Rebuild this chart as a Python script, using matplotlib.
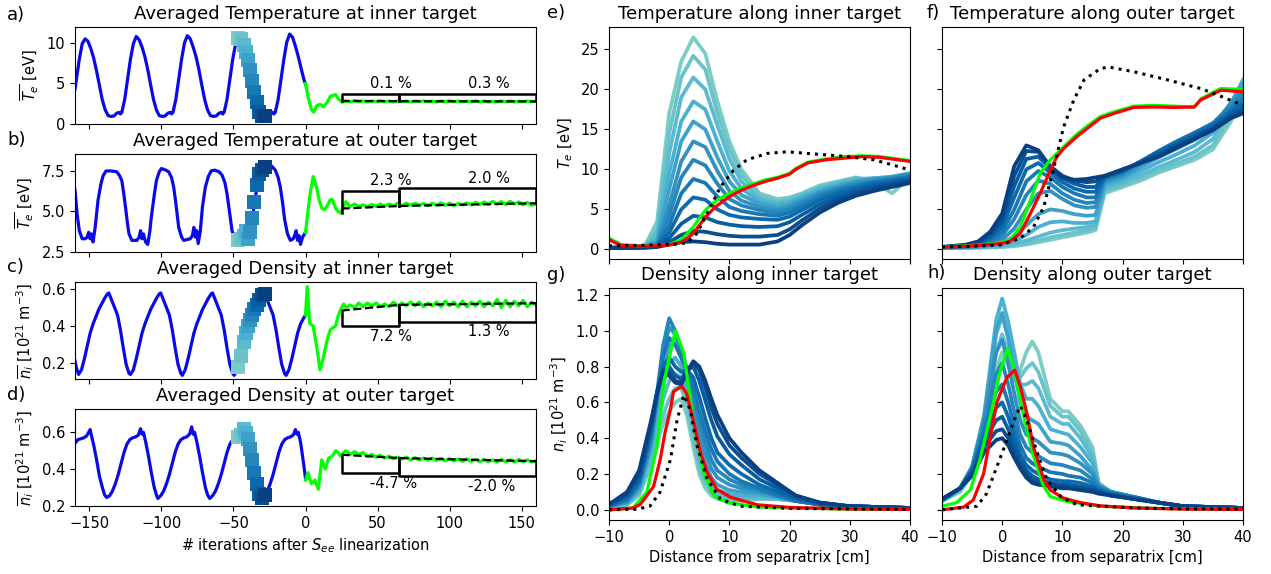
import matplotlib
matplotlib.use('Agg')
import matplotlib.pyplot as plt
import numpy as np

# ---------------- left column: target averages vs. iteration ----------------
ITER_SQUARES = [-47, -45, -43, -41.5, -40, -38.5, -37, -35.5, -34, -32, -30, -28]

A_BLUE_X = [-160, -159, -157, -155, -153, -151, -149, -147, -145, -143, -141, -139, -137, -135, -133, -131, -129.5, -128.5, -127.5,
            -125.5, -123.5, -121.5, -119.5, -117.5, -115.5, -113.5, -111.5, -109.5, -107.5, -105.5, -103.5, -101.5, -99.5, -97.5, -95.5, -94, -93, -92,
            -90, -88, -86, -84, -82, -80, -78, -76, -74, -72, -70, -68, -66, -64, -62, -60, -58.5, -57.5, -56.5,
            -54.5, -52.5, -50.5, -48.5, -46.5, -44.5, -42.5, -40.5, -38.5, -36.5, -34.5, -32.5, -30.5, -28.5, -26.5, -24.5, -23, -22, -21,
            -19, -17, -15, -13, -11, -9, -7, -5, -3, -1, 0]
A_BLUE_Y = [4.3, 5.5, 8.0, 9.9, 10.5, 10.2, 9.3, 8.1, 6.5, 4.7, 2.9, 1.7, 1.0, 0.9, 0.95, 1.3, 1.4, 1.2, 1.4,
            3.0, 5.5, 8.0, 9.9, 10.8, 10.4, 9.5, 8.3, 6.7, 4.8, 3.0, 1.7, 1.0, 0.9, 0.95, 1.3, 1.4, 1.2, 1.4,
            3.0, 5.5, 8.0, 10.0, 10.9, 10.5, 9.5, 8.3, 6.7, 4.8, 3.0, 1.7, 1.0, 0.9, 0.95, 1.3, 1.4, 1.2, 1.4,
            3.0, 5.5, 8.0, 9.9, 10.7, 10.4, 9.5, 8.3, 6.7, 4.8, 3.0, 1.7, 1.0, 0.9, 0.95, 1.3, 1.4, 1.2, 1.4,
            3.0, 5.5, 8.0, 10.1, 11.1, 10.7, 9.6, 8.3, 6.8, 5.4, 4.9]
A_SQUARES = [10.6, 10.5, 9.8, 8.9, 7.9, 6.7, 5.3, 3.9, 2.7, 1.5, 1.0, 0.9]

B_BLUE_X = [-160, -158.5, -157, -155, -153, -151.5, -150.5, -149.5, -148.5, -147.5, -146, -144, -142, -140.5, -138.5, -135, -131, -129,
            -127.5, -126, -125, -123.5, -122.5, -120.5, -117, -115.5, -114.5, -113.5, -112.5, -111, -109.5, -108, -107, -105, -103.5,
            -101.5, -100, -97, -95, -93, -91.5, -90, -88, -86, -84.5, -80, -78.5, -77.5, -76.5, -75.5, -74.5, -73, -71.5, -69.5, -67.5,
            -65.5, -63, -60, -58, -56, -54.5, -52.5, -51, -49, -46, -44, -42.5, -41.5, -40.5, -39.5, -38, -36.5, -35, -33, -31, -28.5,
            -25.5, -23.5, -21, -19, -17.5, -16, -14.5, -12.5, -10.5, -8.5, -7.5, -6.5, -5.5, -4.5, -3.5, -2, 0]
B_BLUE_Y = [6.3, 4.8, 3.8, 3.3, 3.3, 3.4, 3.7, 3.3, 3.6, 3.1, 4.0, 5.7, 6.7, 7.2, 7.5, 7.5, 7.45, 7.2,
            6.9, 6.0, 5.3, 4.2, 3.6, 3.2, 3.2, 3.4, 3.8, 3.3, 3.6, 3.1, 2.95, 3.8, 4.65, 6.0, 6.9,
            7.45, 7.65, 7.55, 7.45, 7.1, 6.5, 5.5, 4.0, 3.4, 3.2, 3.3, 3.5, 4.0, 3.4, 3.8, 3.0, 3.8, 5.3, 6.5, 7.15,
            7.5, 7.55, 7.45, 7.25, 6.8, 6.1, 4.8, 3.8, 3.3, 3.2, 3.3, 3.5, 3.8, 3.3, 3.1, 3.7, 4.8, 5.8, 6.8, 7.4, 7.7,
            7.85, 7.8, 7.55, 7.1, 6.5, 5.6, 4.5, 3.6, 3.2, 3.3, 3.5, 3.8, 3.2, 3.5, 2.95, 3.4, 3.7]
B_SQUARES = [3.2, 3.3, 3.45, 3.8, 3.3, 3.7, 4.6, 5.6, 6.6, 7.3, 7.55, 7.75]

C_BLUE_X = [-160, -159, -157.5, -155.5, -153.5, -151.5, -149.5, -147.5, -145.5, -143.5, -141.5, -139.5, -137.5, -136.5, -134.5,
            -132.5, -130.5, -128.5, -126.5, -124.5, -122.5,
            -121.5, -119.5, -117.5, -115.5, -113.5, -111.5, -109.5, -107.5, -105.5, -103.5, -101.5, -100.5, -98.5, -96.5, -94.5,
            -92.5, -90.5, -88.5, -86.5,
            -85.5, -83.5, -81.5, -79.5, -77.5, -75.5, -73.5, -71.5, -69.5, -67.5, -65.5, -64.5, -62.5, -60.5, -58.5, -56.5, -54.5,
            -52.5, -50.5,
            -49.5, -47.5, -45.5, -43.5, -41.5, -39.5, -37.5, -35.5, -33.5, -31.5, -29.5, -28.5, -26.5, -24.5, -22.5, -20.5, -18.5,
            -16.5, -14.5,
            -13.5, -11.5, -9.5, -7.5, -5.5, -3.5, -1.5, 0]
C_BLUE_Y = [0.21, 0.17, 0.135, 0.16, 0.22, 0.29, 0.36, 0.41, 0.45, 0.49, 0.52, 0.55, 0.575, 0.58, 0.54,
            0.50, 0.46, 0.38, 0.28, 0.19, 0.14,
            0.135, 0.16, 0.22, 0.29, 0.36, 0.41, 0.45, 0.49, 0.52, 0.55, 0.575, 0.58, 0.54, 0.50, 0.46,
            0.38, 0.28, 0.19, 0.14,
            0.13, 0.16, 0.22, 0.29, 0.36, 0.41, 0.45, 0.49, 0.52, 0.55, 0.575, 0.58, 0.54, 0.50, 0.46, 0.38, 0.28,
            0.19, 0.14,
            0.13, 0.16, 0.22, 0.29, 0.36, 0.41, 0.45, 0.49, 0.52, 0.55, 0.575, 0.58, 0.54, 0.50, 0.46, 0.38, 0.28,
            0.19, 0.14,
            0.13, 0.16, 0.22, 0.29, 0.36, 0.41, 0.44, 0.46]
C_SQUARES = [0.175, 0.235, 0.31, 0.36, 0.40, 0.43, 0.46, 0.49, 0.515, 0.54, 0.57, 0.575]

D_BLUE_X = [-160, -158, -156, -154, -152, -150.5, -149.5, -148.5, -147, -145, -143, -141, -139.5,
            -138, -136, -134, -132, -130, -128, -126, -124, -122, -120, -118, -116, -114.5, -113.5, -112.5, -111, -109, -107, -105,
            -103.5,
            -102.5, -100.5, -98.5, -96.5, -94.5, -92.5, -90.5, -88.5, -86.5, -84.5, -82.5, -80.5, -79, -78, -77, -75.5, -73.5,
            -71.5, -69.5, -68,
            -66.5, -64.5, -62.5, -60.5, -58.5, -56.5, -54.5, -52.5, -50.5, -48.5, -46.5, -44.5, -43, -42, -41, -39.5, -37.5,
            -35.5, -33.5, -32,
            -30.5, -28.5, -26.5, -24.5, -22.5, -20.5, -18.5, -16.5, -14.5, -12.5, -10.5, -8.5, -7, -6, -5, -3.5, -1.5, 0]
D_BLUE_Y = [0.54, 0.56, 0.565, 0.57, 0.58, 0.60, 0.615, 0.58, 0.53, 0.45, 0.36, 0.30, 0.26,
            0.245, 0.255, 0.28, 0.32, 0.37, 0.43, 0.49, 0.535, 0.56, 0.57, 0.575, 0.585, 0.62, 0.59, 0.60, 0.55, 0.47, 0.38, 0.30,
            0.26,
            0.24, 0.255, 0.28, 0.32, 0.37, 0.43, 0.49, 0.535, 0.56, 0.57, 0.575, 0.59, 0.63, 0.59, 0.60, 0.55, 0.47,
            0.38, 0.30, 0.26,
            0.24, 0.255, 0.28, 0.32, 0.37, 0.43, 0.49, 0.535, 0.56, 0.57, 0.575, 0.59, 0.64, 0.60, 0.60, 0.55, 0.47,
            0.38, 0.30, 0.26,
            0.24, 0.255, 0.28, 0.32, 0.37, 0.43, 0.49, 0.535, 0.56, 0.57, 0.575, 0.585, 0.615, 0.59, 0.60, 0.55, 0.44, 0.35]
D_SQUARES = [0.575, 0.583, 0.62, 0.595, 0.565, 0.51, 0.45, 0.38, 0.32, 0.265, 0.245, 0.26]

GREEN_TAIL_X = [28, 31, 34, 37, 40, 43, 46, 49, 52, 55, 58, 61, 64, 67, 70, 73, 76, 79, 82, 85, 88, 91, 94, 97, 100,
                103, 106, 109, 112, 115, 118, 121, 124, 127, 130, 133, 136, 139, 142, 145, 148, 151, 154, 157, 160]

A_GREEN_HEAD_X = [0, 2.2, 4.1, 5.8, 7.7, 10.1, 12.5, 14.9, 17.3, 20.9, 23.2, 25.6]
A_GREEN_HEAD_Y = [4.96, 3.0, 1.76, 1.43, 2.2, 2.4, 2.1, 2.6, 3.4, 3.6, 3.0, 2.66]
A_GREEN_TAIL_Y = [2.8, 2.7, 2.85, 2.72, 2.82, 2.7, 2.8, 2.74, 2.84, 2.72, 2.8, 2.7, 2.82, 2.73, 2.8, 2.7, 2.8, 2.74, 2.82,
                  2.72, 2.78, 2.7, 2.8, 2.73, 2.82, 2.72, 2.8, 2.7, 2.78, 2.72, 2.82, 2.7, 2.8, 2.68, 2.76, 2.7, 2.8, 2.72,
                  2.8, 2.7, 2.78, 2.72, 2.8, 2.72, 2.76]

B_GREEN_HEAD_X = [0, 2.9, 5.3, 7.7, 9.5, 11.3, 13, 14.9, 17, 18.5, 20.9, 22.5, 24.4, 26]
B_GREEN_HEAD_Y = [3.7, 5.9, 7.15, 6.5, 5.7, 5.2, 5.1, 5.3, 5.7, 5.75, 5.2, 5.0, 4.9, 5.2]
B_GREEN_TAIL_Y = [5.6, 5.3, 5.45, 5.3, 5.4, 5.28, 5.42, 5.3, 5.45, 5.32, 5.45, 5.35, 5.5, 5.35, 5.5, 5.38, 5.5, 5.38, 5.48,
                  5.35, 5.5, 5.38, 5.52, 5.38, 5.5, 5.36, 5.48, 5.4, 5.52, 5.4, 5.56, 5.42, 5.58, 5.42, 5.62, 5.45, 5.6, 5.42,
                  5.62, 5.45, 5.58, 5.4, 5.55, 5.38, 5.45]

C_GREEN_HEAD_X = [0, 1.2, 2.9, 5.3, 7.7, 10.1, 12.5, 14.9, 17.3, 19, 20.9, 22.5, 24.4, 26.5]
C_GREEN_HEAD_Y = [0.46, 0.615, 0.415, 0.40, 0.29, 0.16, 0.23, 0.32, 0.38, 0.39, 0.40, 0.45, 0.49, 0.52]
C_GREEN_TAIL_Y = [0.50, 0.515, 0.50, 0.525, 0.505, 0.525, 0.51, 0.525, 0.505, 0.52, 0.505, 0.53, 0.51, 0.525, 0.51, 0.53,
                  0.51, 0.53, 0.505, 0.525, 0.51, 0.53, 0.505, 0.535, 0.51, 0.53, 0.505, 0.535, 0.505, 0.53, 0.51, 0.535,
                  0.505, 0.53, 0.51, 0.545, 0.50, 0.54, 0.505, 0.535, 0.51, 0.54, 0.505, 0.53, 0.515]

D_GREEN_HEAD_X = [0, 1.7, 4.1, 6.5, 8.9, 11.3, 13.7, 16.1, 18.5, 20.9, 22.6, 24.4, 26.5]
D_GREEN_HEAD_Y = [0.34, 0.38, 0.32, 0.34, 0.29, 0.45, 0.40, 0.46, 0.47, 0.50, 0.49, 0.47, 0.49]
D_GREEN_TAIL_Y = [0.50, 0.48, 0.495, 0.48, 0.49, 0.47, 0.48, 0.465, 0.475, 0.46, 0.47, 0.455, 0.465, 0.455, 0.465, 0.45,
                  0.462, 0.45, 0.46, 0.448, 0.46, 0.447, 0.458, 0.445, 0.456, 0.445, 0.455, 0.442, 0.455, 0.442, 0.452,
                  0.44, 0.452, 0.44, 0.45, 0.438, 0.452, 0.44, 0.45, 0.438, 0.452, 0.44, 0.45, 0.438, 0.445]

# running mean (dashed) and the two averaging windows
WINDOW_X = [25, 65, 160]
A_MEAN = [2.82, 2.78, 2.76]
B_MEAN = [5.17, 5.33, 5.5]
C_MEAN = [0.484, 0.515, 0.524]
D_MEAN = [0.478, 0.46, 0.443]

A_BASE = [2.82, 2.78, 2.76]
B_BASE = [4.92, 5.33, 5.5]
C_BASE = [0.484, 0.515, 0.524]
D_BASE = [0.478, 0.46, 0.443]
A_LEVEL = [3.7, 3.7]
B_LEVEL = [6.25, 6.42]
C_LEVEL = [0.40, 0.4236]
D_LEVEL = [0.378, 0.36]
A_PCT = ['0.1 %', '0.3 %']
B_PCT = ['2.3 %', '2.0 %']
C_PCT = ['7.2 %', '1.3 %']
D_PCT = ['-4.7 %', '-2.0 %']

# ---------------- right column: profiles along the targets ----------------
E_X = [-10, -6, -4, -2, 0, 2, 4, 6, 8, 10, 12, 15, 18, 20, 22, 25, 28, 31, 34, 37, 40]
E_CURVES = [
    [0.2, 0.3, 0.5, 3.5, 17.0, 23.5, 26.5, 24.5, 18.5, 13.5, 10.0, 7.0, 6.3, 6.5, 7.0, 8.0, 8.5, 9.0, 8.5, 7.0, 9.0],
    [0.2, 0.3, 0.4, 2.5, 14.5, 21.5, 24.2, 22.5, 17.0, 12.5, 9.3, 6.7, 6.0, 6.3, 6.9, 7.8, 8.4, 8.9, 8.7, 8.2, 9.2],
    [0.2, 0.3, 0.4, 1.8, 12.0, 19.0, 21.5, 20.0, 15.5, 11.3, 8.5, 6.3, 5.8, 6.1, 6.7, 7.6, 8.3, 8.8, 8.9, 9.0, 9.4],
    [0.2, 0.3, 0.35, 1.2, 9.5, 16.0, 18.5, 17.5, 13.5, 9.8, 7.6, 6.0, 5.5, 5.9, 6.5, 7.4, 8.1, 8.6, 8.9, 9.1, 9.5],
    [0.2, 0.3, 0.35, 0.9, 7.5, 13.5, 16.0, 15.0, 11.5, 8.5, 6.8, 5.7, 5.2, 5.6, 6.3, 7.2, 7.9, 8.5, 8.8, 9.0, 9.5],
    [0.2, 0.3, 0.3, 0.7, 5.5, 11.0, 13.5, 12.8, 9.8, 7.3, 6.1, 5.3, 4.9, 5.3, 6.0, 7.0, 7.7, 8.3, 8.7, 9.0, 9.4],
    [0.2, 0.25, 0.3, 0.6, 4.2, 9.0, 11.2, 10.5, 8.2, 6.3, 5.5, 4.9, 4.6, 5.0, 5.7, 6.8, 7.5, 8.1, 8.5, 8.8, 9.2],
    [0.2, 0.25, 0.3, 0.5, 3.0, 7.0, 8.8, 8.3, 6.6, 5.3, 4.8, 4.4, 4.2, 4.6, 5.3, 6.5, 7.3, 7.9, 8.4, 8.7, 9.1],
    [0.15, 0.25, 0.3, 0.45, 2.1, 5.0, 6.5, 6.2, 5.0, 4.3, 4.0, 3.8, 3.7, 4.1, 4.9, 6.1, 7.0, 7.6, 8.2, 8.5, 8.9],
    [0.15, 0.2, 0.25, 0.4, 1.4, 3.2, 4.2, 4.0, 3.4, 3.1, 2.9, 2.8, 2.9, 3.4, 4.3, 5.6, 6.6, 7.3, 7.9, 8.3, 8.7],
    [0.15, 0.2, 0.25, 0.35, 0.9, 1.8, 2.3, 2.2, 1.9, 1.7, 1.6, 1.6, 1.8, 2.5, 3.6, 5.1, 6.2, 7.0, 7.6, 8.1, 8.5],
    [0.15, 0.2, 0.2, 0.3, 0.6, 0.9, 1.0, 0.9, 0.7, 0.6, 0.6, 0.6, 1.0, 1.8, 3.0, 4.6, 5.8, 6.7, 7.3, 7.8, 8.3],
]
E_RED_X = [-10, -8, -5, -2, 0, 2, 3, 4, 5, 6, 7, 8, 10, 12, 14, 16, 18, 20, 21, 23, 26, 29, 32, 35, 38, 40]
E_RED_Y = [1.2, 0.5, 0.4, 0.45, 0.55, 0.9, 1.4, 2.0, 3.0, 4.0, 4.8, 5.5, 6.6, 7.4, 8.0, 8.5, 8.9, 9.4, 10.0, 10.8,
           11.2, 11.4, 11.6, 11.5, 11.2, 11.0]
E_GREEN_Y = [1.4, 0.6, 0.45, 0.5, 0.6, 1.2, 2.0, 2.8, 3.9, 4.9, 5.6, 6.2, 7.0, 7.7, 8.2, 8.7, 9.0, 9.5, 10.1, 10.9,
             11.3, 11.6, 11.7, 11.6, 11.3, 11.1]
E_DOT_X = [-10, -5, 0, 2, 3, 4.6, 6.3, 8.5, 10.7, 12.9, 16.3, 19.6, 22.9, 26.3, 29.6, 34, 37.4, 40]
E_DOT_Y = [0.45, 0.5, 0.6, 0.7, 0.9, 2.0, 4.5, 7.8, 9.9, 11.2, 12.0, 12.2, 12.0, 11.8, 11.6, 11.2, 10.5, 9.9]

F_X = [-10, -6, -4, -2, 0, 2, 4, 6, 8, 10, 12, 14, 15.5, 17, 20, 23, 26, 29, 32, 35, 38, 40]
F_CURVES = [
    [0.2, 0.2, 0.2, 0.25, 0.3, 0.4, 0.6, 0.9, 1.2, 1.5, 1.8, 2.1, 2.4, 7.0, 7.8, 8.6, 9.6, 10.4, 11.2, 12.5, 16.0, 19.5],
    [0.2, 0.2, 0.25, 0.3, 0.35, 0.5, 0.8, 1.1, 1.5, 1.8, 2.1, 2.4, 2.7, 7.3, 8.0, 8.9, 9.9, 10.7, 11.6, 13.0, 16.8, 20.3],
    [0.2, 0.25, 0.3, 0.35, 0.45, 0.7, 1.1, 1.6, 2.1, 2.4, 2.6, 2.8, 3.1, 7.6, 8.3, 9.3, 10.3, 11.2, 12.2, 13.8, 17.6, 21.0],
    [0.2, 0.25, 0.3, 0.4, 0.6, 1.0, 1.8, 2.8, 3.4, 3.5, 3.3, 3.3, 3.5, 7.9, 8.7, 9.8, 10.9, 11.9, 13.0, 14.6, 18.2, 21.2],
    [0.2, 0.3, 0.35, 0.5, 0.8, 1.6, 3.0, 4.4, 5.0, 4.8, 4.4, 4.2, 4.3, 8.2, 9.0, 10.3, 11.5, 12.6, 13.7, 15.2, 18.4, 20.8],
    [0.25, 0.3, 0.4, 0.7, 1.2, 2.6, 5.0, 7.0, 7.3, 6.3, 5.5, 5.2, 5.3, 8.5, 9.3, 10.7, 12.0, 13.2, 14.3, 15.6, 18.2, 20.2],
    [0.25, 0.35, 0.5, 0.9, 1.7, 3.8, 6.8, 8.6, 8.2, 7.0, 6.2, 5.8, 5.9, 8.7, 9.5, 10.9, 12.3, 13.5, 14.6, 15.8, 17.9, 19.5],
    [0.25, 0.4, 0.6, 1.1, 2.2, 5.0, 8.5, 9.8, 9.0, 7.8, 7.0, 6.5, 6.5, 8.9, 9.7, 11.0, 12.3, 13.5, 14.6, 15.7, 17.5, 18.8],
    [0.3, 0.4, 0.7, 1.4, 2.8, 6.5, 10.0, 10.8, 9.6, 8.4, 7.6, 7.2, 7.2, 9.0, 9.8, 11.0, 12.2, 13.3, 14.4, 15.5, 17.2, 18.2],
    [0.3, 0.5, 0.8, 1.7, 3.4, 7.9, 11.3, 11.6, 10.1, 8.9, 8.2, 7.8, 7.8, 9.1, 9.9, 10.9, 12.0, 13.1, 14.2, 15.3, 16.9, 17.7],
    [0.3, 0.5, 0.9, 1.9, 3.9, 9.2, 12.3, 12.2, 10.4, 9.2, 8.6, 8.4, 8.5, 9.1, 10.0, 10.8, 11.8, 12.9, 14.0, 15.1, 16.6, 17.3],
    [0.3, 0.6, 1.0, 2.2, 4.5, 10.4, 13.0, 12.4, 10.3, 9.0, 8.7, 8.8, 9.0, 9.2, 10.0, 10.8, 11.6, 12.7, 13.8, 14.9, 16.4, 17.0],
]
F_RED_X = [-10, -6, -3, 0, 1.3, 3.0, 4.7, 6.3, 8.0, 9.1, 10.2, 12.4, 14.1, 16.3, 18.6, 21.9, 25.2, 28.6, 31.9, 33, 34.7,
           36.3, 40]
F_RED_Y = [0.3, 0.4, 0.55, 0.75, 1.0, 2.0, 4.5, 7.0, 9.9, 11.6, 12.6, 14.1, 15.1, 16.4, 17.0, 17.75, 17.8, 17.75, 17.8,
           18.7, 19.3, 19.9, 19.7]
F_GREEN_Y = [0.3, 0.45, 0.6, 0.9, 1.2, 2.8, 6.2, 9.5, 11.2, 12.0, 12.8, 14.4, 15.4, 16.6, 17.2, 17.9, 18.0, 17.9, 17.8,
             18.8, 19.5, 20.1, 20.0]
F_DOT_X = [-10, -5, -0.3, 3, 5.2, 6.9, 8.6, 10.2, 11.9, 13.6, 16.3, 17.7, 21.9, 27.4, 33, 35.8, 40]
F_DOT_Y = [0.3, 0.4, 0.55, 1.4, 2.8, 5.3, 10.3, 15.3, 18.7, 21.2, 22.6, 22.8, 22.2, 21.2, 20.1, 19.3, 18.0]

G_X = [-10, -7, -5, -3, -2, -1, 0, 1, 2, 3, 4, 5, 6, 7, 8, 10, 12, 15, 18, 21, 25, 30, 40]
G_CURVES = [
    [0.01, 0.03, 0.08, 0.25, 0.38, 0.48, 0.55, 0.60, 0.62, 0.52, 0.35, 0.20, 0.12, 0.08, 0.06, 0.05, 0.05, 0.06, 0.06, 0.05, 0.03, 0.02, 0.01],
    [0.01, 0.03, 0.09, 0.27, 0.42, 0.53, 0.62, 0.68, 0.68, 0.58, 0.40, 0.24, 0.15, 0.10, 0.07, 0.06, 0.06, 0.06, 0.06, 0.05, 0.03, 0.02, 0.01],
    [0.01, 0.03, 0.10, 0.30, 0.48, 0.62, 0.72, 0.76, 0.74, 0.63, 0.45, 0.28, 0.18, 0.12, 0.09, 0.07, 0.07, 0.07, 0.06, 0.05, 0.03, 0.02, 0.01],
    [0.02, 0.04, 0.11, 0.33, 0.55, 0.70, 0.82, 0.85, 0.80, 0.68, 0.50, 0.33, 0.21, 0.15, 0.11, 0.09, 0.08, 0.08, 0.07, 0.05, 0.03, 0.02, 0.01],
    [0.02, 0.04, 0.12, 0.36, 0.60, 0.80, 0.92, 0.93, 0.85, 0.72, 0.55, 0.38, 0.26, 0.18, 0.14, 0.11, 0.10, 0.09, 0.07, 0.05, 0.03, 0.02, 0.01],
    [0.02, 0.05, 0.13, 0.38, 0.63, 0.88, 1.02, 0.98, 0.88, 0.75, 0.60, 0.44, 0.32, 0.23, 0.18, 0.14, 0.12, 0.10, 0.08, 0.05, 0.03, 0.02, 0.01],
    [0.02, 0.05, 0.14, 0.40, 0.66, 0.92, 1.07, 1.00, 0.90, 0.78, 0.64, 0.50, 0.38, 0.28, 0.22, 0.17, 0.14, 0.11, 0.08, 0.05, 0.03, 0.02, 0.01],
    [0.02, 0.06, 0.15, 0.42, 0.64, 0.86, 0.96, 0.92, 0.85, 0.78, 0.68, 0.55, 0.44, 0.34, 0.27, 0.20, 0.16, 0.12, 0.08, 0.05, 0.03, 0.02, 0.01],
    [0.02, 0.07, 0.16, 0.44, 0.64, 0.80, 0.85, 0.80, 0.77, 0.78, 0.74, 0.63, 0.51, 0.40, 0.32, 0.25, 0.20, 0.14, 0.10, 0.06, 0.03, 0.02, 0.01],
    [0.03, 0.08, 0.18, 0.46, 0.65, 0.78, 0.80, 0.75, 0.73, 0.78, 0.80, 0.72, 0.61, 0.50, 0.41, 0.31, 0.25, 0.17, 0.12, 0.07, 0.04, 0.02, 0.01],
    [0.03, 0.09, 0.20, 0.48, 0.66, 0.78, 0.77, 0.72, 0.71, 0.78, 0.82, 0.78, 0.68, 0.57, 0.48, 0.36, 0.29, 0.20, 0.14, 0.08, 0.04, 0.02, 0.01],
    [0.03, 0.10, 0.22, 0.50, 0.66, 0.77, 0.75, 0.71, 0.70, 0.77, 0.83, 0.80, 0.72, 0.62, 0.53, 0.40, 0.32, 0.22, 0.15, 0.08, 0.04, 0.02, 0.01],
]
G_RED_X = [-10, -6, -4.8, -2.6, -1.5, -0.7, 0.2, 0.7, 2.1, 2.9, 4.0, 5.2, 6.3, 7.9, 10.2, 14.6, 20.2, 30, 40]
G_RED_Y = [0.0, 0.01, 0.03, 0.13, 0.28, 0.43, 0.56, 0.66, 0.69, 0.65, 0.50, 0.32, 0.21, 0.115, 0.07, 0.028, 0.013, 0.005, 0.002]
G_GREEN_X = [-10, -6, -3.7, -2, -0.9, 1.0, 2.4, 4.0, 5.7, 7.4, 9.6, 15, 20, 30, 40]
G_GREEN_Y = [0.0, 0.01, 0.1, 0.36, 0.71, 1.0, 0.88, 0.5, 0.21, 0.08, 0.04, 0.015, 0.01, 0.004, 0.002]
G_DOT_X = [-10, -5.4, -3.2, -1.5, 0.2, 1.3, 2.4, 3.5, 4.6, 6.3, 8.5, 11.8, 20, 30, 40]
G_DOT_Y = [0.0, 0.003, 0.02, 0.1, 0.28, 0.5, 0.64, 0.56, 0.36, 0.17, 0.06, 0.02, 0.008, 0.004, 0.002]

H_X = [-10, -7, -5, -3, -1, 0, 1, 2, 3, 4, 5, 6, 8, 10, 11, 13, 15, 16, 18, 22, 26, 30, 40]
H_CURVES = [
    [0.05, 0.10, 0.20, 0.42, 0.78, 0.88, 0.80, 0.72, 0.78, 0.88, 0.94, 0.88, 0.62, 0.55, 0.55, 0.47, 0.35, 0.15, 0.10, 0.07, 0.04, 0.02, 0.01],
    [0.05, 0.11, 0.22, 0.46, 0.88, 0.98, 0.88, 0.76, 0.74, 0.79, 0.82, 0.77, 0.58, 0.52, 0.52, 0.44, 0.32, 0.15, 0.10, 0.07, 0.04, 0.02, 0.01],
    [0.05, 0.11, 0.23, 0.50, 0.98, 1.08, 0.96, 0.80, 0.70, 0.70, 0.72, 0.68, 0.52, 0.48, 0.48, 0.40, 0.29, 0.14, 0.10, 0.07, 0.04, 0.02, 0.01],
    [0.05, 0.12, 0.24, 0.53, 1.06, 1.18, 1.05, 0.88, 0.70, 0.62, 0.62, 0.58, 0.45, 0.43, 0.42, 0.35, 0.26, 0.14, 0.10, 0.07, 0.04, 0.02, 0.01],
    [0.05, 0.12, 0.24, 0.52, 1.00, 1.10, 0.96, 0.78, 0.60, 0.52, 0.50, 0.48, 0.38, 0.37, 0.36, 0.30, 0.22, 0.14, 0.10, 0.07, 0.04, 0.02, 0.01],
    [0.05, 0.12, 0.24, 0.50, 0.88, 0.95, 0.82, 0.65, 0.50, 0.42, 0.40, 0.38, 0.32, 0.31, 0.30, 0.26, 0.20, 0.13, 0.10, 0.07, 0.04, 0.02, 0.01],
    [0.05, 0.12, 0.23, 0.47, 0.76, 0.82, 0.70, 0.55, 0.42, 0.35, 0.32, 0.30, 0.26, 0.25, 0.24, 0.22, 0.17, 0.13, 0.10, 0.07, 0.04, 0.02, 0.01],
    [0.06, 0.12, 0.22, 0.44, 0.66, 0.70, 0.60, 0.47, 0.36, 0.29, 0.26, 0.24, 0.21, 0.20, 0.19, 0.18, 0.15, 0.12, 0.09, 0.07, 0.04, 0.02, 0.01],
    [0.06, 0.12, 0.22, 0.41, 0.57, 0.60, 0.52, 0.41, 0.31, 0.25, 0.22, 0.20, 0.17, 0.16, 0.16, 0.15, 0.13, 0.11, 0.09, 0.06, 0.04, 0.02, 0.01],
    [0.06, 0.12, 0.21, 0.38, 0.50, 0.52, 0.45, 0.36, 0.28, 0.22, 0.19, 0.17, 0.15, 0.14, 0.14, 0.13, 0.12, 0.10, 0.08, 0.06, 0.04, 0.02, 0.01],
    [0.06, 0.12, 0.20, 0.35, 0.44, 0.45, 0.40, 0.32, 0.25, 0.20, 0.17, 0.15, 0.14, 0.13, 0.13, 0.12, 0.11, 0.10, 0.08, 0.06, 0.04, 0.02, 0.01],
    [0.06, 0.12, 0.19, 0.32, 0.39, 0.40, 0.36, 0.29, 0.23, 0.18, 0.15, 0.14, 0.13, 0.12, 0.12, 0.11, 0.10, 0.09, 0.08, 0.06, 0.04, 0.02, 0.01],
]
H_RED_X = [-10, -6.4, -4.8, -3.1, -0.9, 0.8, 2.1, 3.0, 4.1, 5.2, 6.9, 8.0, 10.2, 13, 16.3, 21.9, 30, 40]
H_RED_Y = [0.0, 0.015, 0.055, 0.2, 0.6, 0.74, 0.78, 0.69, 0.54, 0.35, 0.17, 0.11, 0.065, 0.04, 0.022, 0.01, 0.004, 0.002]
H_GREEN_X = [-10, -7.6, -5.3, -3.7, -2, -0.3, 0.9, 1.9, 3.6, 5.2, 6.9, 8.0, 10.8, 16.3, 25, 40]
H_GREEN_Y = [0.02, 0.04, 0.11, 0.28, 0.52, 0.78, 0.90, 0.80, 0.52, 0.30, 0.13, 0.074, 0.046, 0.02, 0.008, 0.002]
H_DOT_X = [-10, -4.2, -2.6, -0.9, 0.8, 2.2, 3.0, 4.1, 5.8, 7.4, 9.7, 12.4, 21.9, 30, 40]
H_DOT_Y = [0.0, 0.02, 0.09, 0.24, 0.39, 0.52, 0.58, 0.50, 0.32, 0.17, 0.074, 0.028, 0.01, 0.005, 0.003]

BLUE = '#0a0ae8'
LIME = '#00ff00'
FS = 10.5
COLORS = plt.get_cmap('GnBu')(np.linspace(0.5, 1.0, len(ITER_SQUARES)))


def left_panel(ax, blue_x, blue_y, squares, head_x, head_y, tail_y, mean, base, level, pct, below):
    ax.plot(blue_x, blue_y, color=BLUE, lw=2.3, zorder=2)
    for k in range(len(ITER_SQUARES)):
        ax.plot(ITER_SQUARES[k], squares[k], 's', color=COLORS[k], ms=10.5, mew=0, zorder=3)
    ax.plot(head_x + GREEN_TAIL_X, head_y + tail_y, color=LIME, lw=2.3, zorder=2)
    ax.plot(WINDOW_X, mean, 'k--', lw=1.6, zorder=4)
    for i in range(2):
        x0, x1 = WINDOW_X[i], WINDOW_X[i + 1]
        ax.plot([x0, x0, x1, x1], [base[i], level[i], level[i], base[i + 1]], 'k-', lw=1.8, zorder=4)
        if below:
            ax.annotate(pct[i], (0.5 * (x0 + x1), level[i]), xytext=(0, -2), textcoords='offset points',
                        ha='left', va='top', fontsize=FS)
        else:
            ax.annotate(pct[i], (0.5 * (x0 + x1), level[i]), xytext=(0, 2), textcoords='offset points',
                        ha='left', va='bottom', fontsize=FS)
    ax.set_xlim(-160, 160)
    ax.set_xticks([-150, -100, -50, 0, 50, 100, 150])
    ax.tick_params(labelsize=FS)


def right_panel(ax, x, curves, red_x, red_y, green_x, green_y, dot_x, dot_y):
    for k, c in enumerate(curves):
        ax.plot(x, c, color=COLORS[k], lw=2.7)
    ax.plot(green_x, green_y, color=LIME, lw=2.3)
    ax.plot(red_x, red_y, color='#ff0000', lw=2.3)
    ax.plot(dot_x, dot_y, 'k:', lw=2.2)
    ax.set_xlim(-10, 40)
    ax.set_xticks([-10, 0, 10, 20, 30, 40])
    ax.tick_params(labelsize=FS)


def main():
    fig = plt.figure(figsize=(12.71, 5.74), dpi=100)

    lx, lw = 75 / 1271, 461 / 1271
    ax_a = fig.add_axes([lx, 450 / 574, lw, 97 / 574])
    ax_b = fig.add_axes([lx, 322 / 574, lw, 98 / 574])
    ax_c = fig.add_axes([lx, 195 / 574, lw, 97 / 574])
    ax_d = fig.add_axes([lx, 68 / 574, lw, 97 / 574])

    left_panel(ax_a, A_BLUE_X, A_BLUE_Y, A_SQUARES, A_GREEN_HEAD_X, A_GREEN_HEAD_Y, A_GREEN_TAIL_Y,
               A_MEAN, A_BASE, A_LEVEL, A_PCT, False)
    left_panel(ax_b, B_BLUE_X, B_BLUE_Y, B_SQUARES, B_GREEN_HEAD_X, B_GREEN_HEAD_Y, B_GREEN_TAIL_Y,
               B_MEAN, B_BASE, B_LEVEL, B_PCT, False)
    left_panel(ax_c, C_BLUE_X, C_BLUE_Y, C_SQUARES, C_GREEN_HEAD_X, C_GREEN_HEAD_Y, C_GREEN_TAIL_Y,
               C_MEAN, C_BASE, C_LEVEL, C_PCT, True)
    left_panel(ax_d, D_BLUE_X, D_BLUE_Y, D_SQUARES, D_GREEN_HEAD_X, D_GREEN_HEAD_Y, D_GREEN_TAIL_Y,
               D_MEAN, D_BASE, D_LEVEL, D_PCT, True)

    ax_a.set_ylim(-0.04, 11.97)
    ax_a.set_yticks([0, 5, 10])
    ax_b.set_ylim(2.48, 8.55)
    ax_b.set_yticks([2.5, 5.0, 7.5])
    ax_c.set_ylim(0.11, 0.64)
    ax_c.set_yticks([0.2, 0.4, 0.6])
    ax_d.set_ylim(0.199, 0.727)
    ax_d.set_yticks([0.2, 0.4, 0.6])
    for ax in (ax_a, ax_b, ax_c):
        ax.tick_params(labelbottom=False)

    ax_a.set_title('Averaged Temperature at inner target', fontsize=13)
    ax_b.set_title('Averaged Temperature at outer target', fontsize=13)
    ax_c.set_title('Averaged Density at inner target', fontsize=13)
    ax_d.set_title('Averaged Density at outer target', fontsize=13)
    ax_a.set_ylabel(r'$\overline{T_e}$ [eV]', fontsize=FS)
    ax_b.set_ylabel(r'$\overline{T_e}$ [eV]', fontsize=FS)
    ax_c.set_ylabel(r'$\overline{n_i}$ [$10^{21}$ m$^{-3}$]', fontsize=FS)
    ax_d.set_ylabel(r'$\overline{n_i}$ [$10^{21}$ m$^{-3}$]', fontsize=FS)
    ax_d.set_xlabel(r'# iterations after $S_{ee}$ linearization', fontsize=FS)

    rw = 301 / 1271
    ax_e = fig.add_axes([609 / 1271, 315 / 574, rw, 232 / 574])
    ax_f = fig.add_axes([942 / 1271, 315 / 574, rw, 232 / 574])
    ax_g = fig.add_axes([609 / 1271, 54 / 574, rw, 232 / 574])
    ax_h = fig.add_axes([942 / 1271, 54 / 574, rw, 232 / 574])

    right_panel(ax_e, E_X, E_CURVES, E_RED_X, E_RED_Y, E_RED_X, E_GREEN_Y, E_DOT_X, E_DOT_Y)
    right_panel(ax_f, F_X, F_CURVES, F_RED_X, F_RED_Y, F_RED_X, F_GREEN_Y, F_DOT_X, F_DOT_Y)
    right_panel(ax_g, G_X, G_CURVES, G_RED_X, G_RED_Y, G_GREEN_X, G_GREEN_Y, G_DOT_X, G_DOT_Y)
    right_panel(ax_h, H_X, H_CURVES, H_RED_X, H_RED_Y, H_GREEN_X, H_GREEN_Y, H_DOT_X, H_DOT_Y)

    for ax in (ax_e, ax_f):
        ax.set_ylim(-1.2, 27.8)
        ax.set_yticks([0, 5, 10, 15, 20, 25])
        ax.tick_params(labelbottom=False)
    for ax in (ax_g, ax_h):
        ax.set_ylim(-0.057, 1.239)
        ax.set_yticks([0.0, 0.2, 0.4, 0.6, 0.8, 1.0, 1.2])
        ax.set_xlabel('Distance from separatrix [cm]', fontsize=FS)
    for ax in (ax_f, ax_h):
        ax.tick_params(labelleft=False)

    ax_e.set_title('Temperature along inner target', fontsize=13)
    ax_f.set_title('Temperature along outer target', fontsize=13)
    ax_g.set_title('Density along inner target', fontsize=13)
    ax_h.set_title('Density along outer target', fontsize=13)
    ax_e.set_ylabel(r'$T_e$ [eV]', fontsize=FS)
    ax_g.set_ylabel(r'$n_i$ [$10^{21}$ m$^{-3}$]', fontsize=FS)

    # panel letters
    for lab, x, y in [('a)', 7, 15), ('b)', 7, 140), ('c)', 7, 267), ('d)', 7, 395),
                      ('e)', 547, 13), ('f)', 927, 13), ('g)', 547, 275), ('h)', 927, 273)]:
        fig.text(x / 1271, 1 - y / 574, lab, fontsize=13, ha='left', va='center')

    fig.savefig('out.png', dpi=100)
    plt.close()


if __name__ == "__main__":
    main()
